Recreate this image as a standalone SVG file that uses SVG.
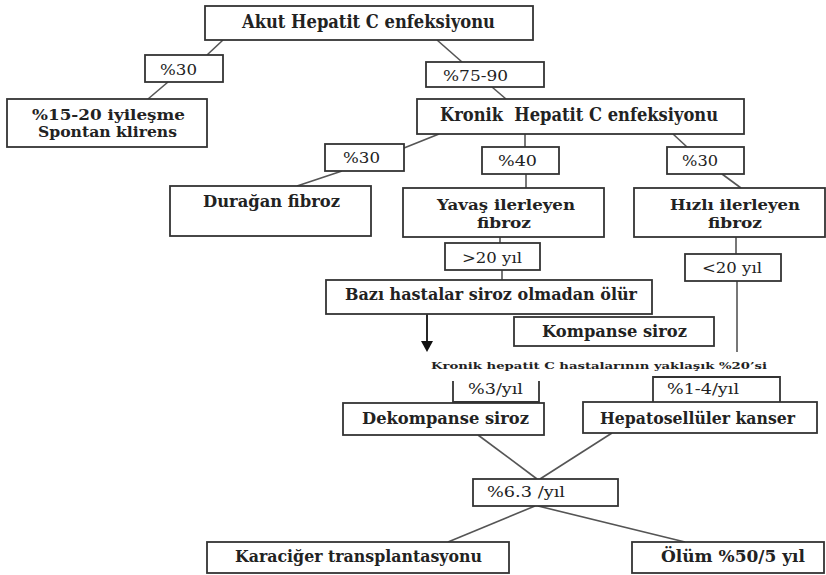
<svg xmlns="http://www.w3.org/2000/svg" width="826" height="575" viewBox="0 0 826 575">
<style>
.box{fill:#fff;stroke:#333;stroke-width:1.8}
.ln{fill:none;stroke:#555;stroke-width:1.6}
text{font-family:"DejaVu Serif","Liberation Serif",serif;font-weight:bold;fill:#222}
.big{font-size:18px}
.mid{font-size:16.5px}
.two{font-size:14.5px}
.pct{font-size:15px;font-weight:normal}
.sm{font-size:10px}
</style>
<rect width="826" height="575" fill="#fff"/>
<g id="connectors">
<line class="ln" x1="223" y1="40" x2="207" y2="55"/>
<line class="ln" x1="168" y1="82" x2="148" y2="99"/>
<line class="ln" x1="437" y1="40" x2="462" y2="62"/>
<line class="ln" x1="492" y1="87" x2="506" y2="99"/>
<line class="ln" x1="439" y1="134" x2="404" y2="148"/>
<line class="ln" x1="342" y1="171" x2="297" y2="186"/>
<line class="ln" x1="525" y1="134" x2="525" y2="147"/>
<line class="ln" x1="526" y1="174" x2="526" y2="188"/>
<line class="ln" x1="673" y1="134" x2="687" y2="147"/>
<line class="ln" x1="722" y1="174" x2="741" y2="188"/>
<line class="ln" x1="500" y1="237" x2="500" y2="243"/>
<line class="ln" x1="502" y1="270" x2="502" y2="280"/>
<line class="ln" x1="736" y1="237" x2="736" y2="254"/>
<line class="ln" x1="737" y1="281" x2="737" y2="352"/>
<line x1="427" y1="314" x2="427" y2="343" stroke="#111" stroke-width="1.8"/>
<polygon points="421,341 433,341 427,352" fill="#111"/>
<line class="ln" x1="478" y1="435" x2="537" y2="479"/>
<line class="ln" x1="612" y1="433" x2="540" y2="479"/>
<line class="ln" x1="535" y1="506" x2="448" y2="542"/>
<line class="ln" x1="538" y1="506" x2="685" y2="542"/>
</g>
<g id="akut"><rect class="box" x="205" y="6" width="328" height="34"/><text class="big" x="242" y="28" textLength="253" lengthAdjust="spacingAndGlyphs">Akut Hepatit C enfeksiyonu</text></g>
<g id="p30a"><rect class="box" x="145" y="55" width="78" height="27"/><text class="pct" x="160" y="75" textLength="37" lengthAdjust="spacingAndGlyphs">%30</text></g>
<g id="iyilesme"><rect class="box" x="7" y="99" width="200" height="48"/><text class="two" x="32" y="120" textLength="153" lengthAdjust="spacingAndGlyphs">%15-20 iyileşme</text><text class="two" x="38" y="137" textLength="139" lengthAdjust="spacingAndGlyphs">Spontan klirens</text></g>
<g id="p7590"><rect class="box" x="426" y="62" width="118" height="25"/><text class="pct" x="443" y="81" textLength="65" lengthAdjust="spacingAndGlyphs">%75-90</text></g>
<g id="kronik"><rect class="box" x="417" y="99" width="327" height="35"/><text class="big" x="440" y="121" textLength="278" lengthAdjust="spacingAndGlyphs" xml:space="preserve">Kronik  Hepatit C enfeksiyonu</text></g>
<g id="p30b"><rect class="box" x="325" y="144" width="79" height="27"/><text class="pct" x="343" y="163" textLength="37" lengthAdjust="spacingAndGlyphs">%30</text></g>
<g id="duragan"><rect class="box" x="170" y="186" width="201" height="50"/><text class="mid" x="203" y="207" textLength="137" lengthAdjust="spacingAndGlyphs">Durağan fibroz</text></g>
<g id="p40"><rect class="box" x="482" y="147" width="77" height="27"/><text class="pct" x="498" y="166" textLength="39" lengthAdjust="spacingAndGlyphs">%40</text></g>
<g id="p30c"><rect class="box" x="667" y="147" width="77" height="27"/><text class="pct" x="682" y="166" textLength="36" lengthAdjust="spacingAndGlyphs">%30</text></g>
<g id="yavas"><rect class="box" x="403" y="188" width="201" height="49"/><text class="two" x="437" y="210" textLength="138" lengthAdjust="spacingAndGlyphs">Yavaş ilerleyen</text><text class="two" x="477" y="228" textLength="54" lengthAdjust="spacingAndGlyphs">fibroz</text></g>
<g id="hizli"><rect class="box" x="634" y="188" width="191" height="49"/><text class="two" x="670" y="210" textLength="130" lengthAdjust="spacingAndGlyphs">Hızlı ilerleyen</text><text class="two" x="708" y="228" textLength="54" lengthAdjust="spacingAndGlyphs">fibroz</text></g>
<g id="gt20"><rect class="box" x="445" y="243" width="95" height="27"/><text class="pct" x="462" y="263" textLength="60" lengthAdjust="spacingAndGlyphs">&gt;20 yıl</text></g>
<g id="lt20"><rect class="box" x="685" y="254" width="96" height="27"/><text class="pct" x="702" y="273" textLength="60" lengthAdjust="spacingAndGlyphs">&lt;20 yıl</text></g>
<g id="bazi"><rect class="box" x="326" y="280" width="326" height="34"/><text class="mid" x="345" y="300" textLength="292" lengthAdjust="spacingAndGlyphs">Bazı hastalar siroz olmadan ölür</text></g>
<g id="kompanse"><rect class="box" x="514" y="317" width="200" height="29"/><text class="mid" x="542" y="337" textLength="145" lengthAdjust="spacingAndGlyphs">Kompanse siroz</text></g>
<g id="note"><text class="sm" x="431" y="369" textLength="336" lengthAdjust="spacingAndGlyphs">Kronik hepatit C hastalarının yaklaşık %20’si</text></g>
<g id="p3yil"><path class="box" style="fill:none" d="M453,381 V402 H539 V381"/><text class="pct" x="468" y="394" textLength="55" lengthAdjust="spacingAndGlyphs">%3/yıl</text></g>
<g id="p14yil"><path class="box" style="fill:none" d="M653,402 V377 H780 V402"/><text class="pct" x="667" y="394" textLength="72" lengthAdjust="spacingAndGlyphs">%1-4/yıl</text></g>
<g id="dekompanse"><rect class="box" x="343" y="403" width="201" height="32"/><text class="mid" x="362" y="424" textLength="167" lengthAdjust="spacingAndGlyphs">Dekompanse siroz</text></g>
<g id="hepato"><rect class="box" x="583" y="402" width="234" height="31"/><text class="mid" x="600" y="424" textLength="195" lengthAdjust="spacingAndGlyphs">Hepatosellüler kanser</text></g>
<g id="p63"><rect class="box" x="473" y="479" width="145" height="27"/><text class="pct" x="487" y="497" textLength="78" lengthAdjust="spacingAndGlyphs">%6.3 /yıl</text></g>
<g id="karaciger"><rect class="box" x="207" y="542" width="302" height="31"/><text class="mid" x="235" y="562" textLength="247" lengthAdjust="spacingAndGlyphs">Karaciğer transplantasyonu</text></g>
<g id="olum"><rect class="box" x="632" y="542" width="192" height="31"/><text class="mid" x="661" y="562" textLength="144" lengthAdjust="spacingAndGlyphs">Ölüm %50/5 yıl</text></g>
</svg>
